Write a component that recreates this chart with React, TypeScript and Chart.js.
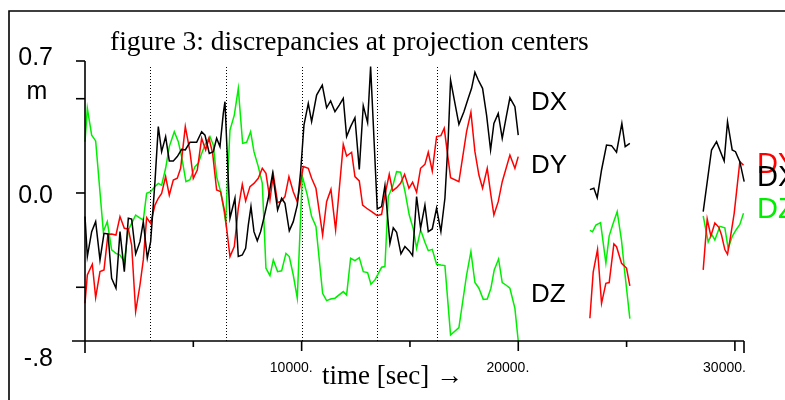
import React, { useEffect, useRef } from "react";
import { Chart, registerables } from "chart.js";

Chart.register(...registerables);

// ---- data (time in seconds, discrepancy in metres); null = gap between strips
const dxTime = [
  0, 108, 308, 492, 692, 877, 1061, 1230, 1430, 1615, 1815, 2000, 2153, 2338, 2538, 2691, 2876, 3030,
  3230, 3384, 3537, 3722, 3891, 4076, 4260, 4460, 4630, 4845, 5154, 5384, 5538, 5738, 5923, 6076, 6230,
  6384, 6461, 6692, 6922, 7076, 7261, 7415, 7538, 7661, 7799, 7953, 8107, 8261, 8461, 8661, 8891, 9076,
  9230, 9430, 9614, 9799, 9953, 10107, 10307, 10461, 10692, 10953, 11153, 11338, 11538, 11738, 11922,
  12076, 12261, 12461, 12661, 12845, 13045, 13184, 13491, 13691, 13845, 14076, 14230, 14384, 14584,
  14768, 14968, 15122, 15307, 15491, 15691, 15845, 16030, 16229, 16429, 16614, 16768, 16875, 17260,
  17491, 17691, 17845, 17999, 18153, 18352, 18537, 18722, 18875, 19075, 19260, 19460, 19614, 19845, 19999,
  21500,
  23306, 23490, 23644, 23844, 24074, 24305, 24536, 24782, 24936, 25151,
  27000,
  28537, 28921, 29152, 29505, 29659, 29875, 30028, 30228, 30428,
];
const dxValue = [
  -0.125, -0.337, -0.205, -0.152, -0.355, -0.214, -0.217, -0.452, -0.505, -0.205, -0.417, -0.134, -0.138,
  -0.323, -0.258, -0.152, -0.346, -0.258, 0.06, 0.352, 0.219, 0.299, 0.17, 0.17, 0.193, 0.231, 0.228,
  0.269, 0.269, 0.325, 0.307, 0.21, 0.219, 0.29, 0.246, 0.422, 0.484, -0.134, -0.028, -0.337, -0.329,
  -0.293, -0.17, -0.072, -0.205, -0.254, -0.205, -0.131, -0.028, 0.104, -0.09, -0.028, -0.055, -0.201,
  -0.152, -0.064, 0.113, 0.36, 0.475, 0.378, 0.519, 0.572, 0.452, 0.488, 0.431, 0.466, 0.502, 0.299,
  0.352, 0.399, 0.125, 0.463, 0.373, 0.67, -0.085, -0.072, 0.039, -0.267, -0.184, -0.208, -0.323,
  -0.284, -0.307, -0.332, -0.019, -0.187, -0.064, -0.205, -0.191, -0.081, -0.205, -0.028, 0.29, 0.599,
  0.364, 0.431, 0.502, 0.555, 0.64, 0.599, 0.555, 0.413, 0.228, 0.369, 0.422, 0.29, 0.413, 0.505, 0.458,
  0.307,
  null,
  0.018, 0.025, -0.025, 0.122, 0.254, 0.251, 0.216, 0.369, 0.246, 0.263,
  null,
  -0.099, 0.228, 0.272, 0.17, 0.378, 0.228, 0.219, 0.166, 0.06,
];

const dyTime = [
  0, 108, 338, 492, 692, 877, 1061, 1230, 1430, 1615, 1815, 2000, 2153, 2338, 2538, 2691, 2845, 3030,
  3230, 3384, 3537, 3722, 3891, 4076, 4260, 4414, 4630, 4845, 4999, 5184, 5384, 5569, 5723, 5892, 6076,
  6261, 6446, 6692, 6892, 7076, 7261, 7415, 7615, 7799, 7999, 8184, 8353, 8538, 8692, 8891, 9076, 9230,
  9414, 9614, 9799, 10077, 10307, 10461, 10661, 10815, 10969, 11153, 11353, 11569, 11922, 12076, 12307,
  12461, 12661, 12815, 13000, 13230, 13491, 13691, 13845, 14045, 14199, 14384, 14568, 14753, 14953,
  15122, 15307, 15491, 15691, 15845, 16030, 16229, 16429, 16583, 16875, 17260, 17614, 17814, 17999,
  18183, 18352, 18568, 18737, 18875, 19075, 19260, 19614, 19845, 19999,
  21500,
  23306, 23459, 23659, 23844, 24044, 24197, 24413, 24536, 24767, 24997, 25151,
  27000,
  28537, 28721, 28890, 29075, 29259, 29382, 29536, 29659, 29798, 29967, 30228, 30397,
];
const dyValue = [
  -0.585, -0.435, -0.378, -0.555, -0.417, -0.408, -0.219, -0.217, -0.223, -0.125, -0.187, -0.191,
  -0.276, -0.629, -0.488, -0.355, -0.131, -0.161, -0.064, -0.028, -0.002, 0.087, -0.011, 0.069, 0.078,
  0.131, 0.352, 0.219, 0.078, 0.122, 0.29, 0.228, 0.29, 0.21, 0.016, 0.007, -0.099, -0.337, -0.284,
  -0.081, 0.046, -0.042, 0.034, 0.051, 0.078, 0.131, 0.104, -0.037, 0.099, -0.051, -0.042, -0.019,
  0.087, 0.007, -0.046, 0.14, 0.131, 0.078, 0.025, -0.099, -0.223, -0.046, 0.019, -0.196, 0.258, 0.196,
  0.216, 0.087, 0.064, -0.064, -0.081, -0.099, -0.12, -0.113, -0.011, 0.099, 0.011, 0.028, 0.051, 0.099,
  0.025, 0.057, 0.004, 0.131, 0.152, 0.216, 0.117, 0.299, 0.304, 0.343, 0.081, 0.06, 0.325, 0.428,
  0.219, 0.095, 0.025, 0.131, -0.011, -0.117, -0.046, 0.06, 0.201, 0.131, 0.193,
  null,
  -0.664, -0.42, -0.3, -0.585, -0.479, -0.475, -0.27, -0.285, -0.373, -0.398, -0.493,
  null,
  -0.408, -0.138, -0.228, -0.159, -0.182, -0.223, -0.3, -0.325, -0.231, -0.108, 0.166, 0.148,
];

const dzTime = [
  0, 108, 308, 492, 846, 1030, 1230, 1430, 1615, 1815, 2000, 2153, 2338, 2507, 2691, 2845, 3030, 3230,
  3384, 3537, 3722, 3891, 4122, 4307, 4460, 4660, 4845, 5077, 5230, 5384, 5569, 5769, 5923, 6076, 6261,
  6384, 6492, 6692, 6892, 7076, 7276, 7461, 7645, 7799, 7999, 8184, 8353, 8538, 8692, 8891, 9076, 9276,
  9430, 9614, 9799, 10030, 10261, 10461, 10661, 10969, 11153, 11338, 11538, 11922, 12076, 12261, 12461,
  12661, 12845, 13045, 13199, 13384, 13691, 13845, 13999, 14199, 14384, 14568, 14768, 14968, 15153,
  15307, 15491, 15691, 15845, 16030, 16229, 16429, 16614, 16875, 17260, 17614, 17814, 17999, 18183,
  18383, 18568, 18737, 18891, 19091, 19260, 19429, 19614, 19845, 19999,
  21500,
  23306, 23429, 23582, 23798, 24044, 24197, 24382, 24567, 24767, 24921, 25151,
  27000,
  28537, 28767, 28921, 29075, 29305, 29536, 29690, 29875, 30028, 30228, 30397,
];
const dzValue = [
  0.272, 0.449, 0.307, 0.276, -0.205, -0.152, -0.302, -0.32, -0.329, -0.364, -0.196, -0.161, -0.117,
  -0.131, -0.143, -0.002, 0.007, 0.034, 0.051, 0.042, 0.131, 0.246, 0.325, 0.272, 0.193, 0.06, 0.07,
  0.14, 0.157, 0.21, 0.263, 0.299, 0.254, 0.087, 0.007, -0.072, -0.152, 0.334, 0.413, 0.555, 0.263,
  0.269, 0.325, 0.219, 0.14, 0.051, -0.399, -0.438, -0.355, -0.417, -0.413, -0.32, -0.337, -0.435,
  -0.558, 0.09, -0.011, -0.125, -0.178, -0.532, -0.571, -0.562, -0.558, -0.523, -0.541, -0.346, -0.359,
  -0.343, -0.417, -0.422, -0.484, -0.461, -0.394, -0.39, -0.019, 0.034, 0.113, 0.11, 0.01, -0.117, -0.19,
  -0.293, -0.195, -0.261, -0.306, -0.299, -0.378, -0.382, -0.385, -0.753, -0.714, -0.435, -0.311,
  -0.475, -0.505, -0.564, -0.562, -0.505, -0.408, -0.35, -0.475, -0.488, -0.505, -0.612, -0.785,
  null,
  -0.198, -0.205, -0.17, -0.157, -0.372, -0.227, -0.161, -0.099, -0.253, -0.426, -0.666,
  null,
  -0.122, -0.26, -0.218, -0.249, -0.177, -0.185, -0.295, -0.231, -0.2, -0.167, -0.108,
];

const stripBoundaries = [3000, 6500, 10000, 13500, 16250];
const xTicks = [0, 5000, 10000, 15000, 20000, 25000, 30000];
const xTickLabels = ["", "", "10000.", "", "20000.", "", "30000."];
const yTicks = [0.7, 0.5, 0, -0.5];
const yTickLabels = ["0.7", "", "0.0", ""];
const yBottomLabel = "-.8";
const yUnit = "m";
const titleText = "figure 3: discrepancies at projection centers";
const xTitle = "time [sec] \u2192";
const X_MIN = 0;
const X_MAX = 30420;
const Y_MIN = -0.785;
const Y_MAX = 0.7;

const BLACK = "#000000";
const RED = "#ff0000";
const GREEN = "#00ee00";

function pts(t: number[], v: (number | null)[]) {
  return t.map((x, i) => ({ x, y: v[i] }));
}

const decor = {
  id: "decor",
  beforeDraw(chart: any) {
    const { ctx, width, height } = chart;
    ctx.save();
    ctx.fillStyle = "#ffffff";
    ctx.fillRect(0, 0, width, height);
    ctx.restore();
  },
  beforeDatasetsDraw(chart: any) {
    const { ctx, chartArea } = chart;
    const xs = chart.scales.x;
    ctx.save();
    ctx.strokeStyle = "#000";
    ctx.lineWidth = 1;
    ctx.setLineDash([1, 2]);
    for (const b of stripBoundaries) {
      const px = Math.round(xs.getPixelForValue(b)) + 0.5;
      ctx.beginPath();
      ctx.moveTo(px, chartArea.top + 6);
      ctx.lineTo(px, chartArea.bottom);
      ctx.stroke();
    }
    ctx.restore();
  },
  afterDraw(chart: any) {
    const { ctx, chartArea } = chart;
    const xs = chart.scales.x;
    const ys = chart.scales.y;
    const x0 = xs.getPixelForValue(X_MIN);
    const xEnd = xs.getPixelForValue(X_MAX);
    const yb = chartArea.bottom;
    ctx.save();
    ctx.strokeStyle = "#000";
    ctx.lineWidth = 1.6;
    // frame
    ctx.beginPath();
    ctx.moveTo(9, 400);
    ctx.lineTo(9, 11);
    ctx.lineTo(785, 11);
    ctx.stroke();
    // y axis
    ctx.beginPath();
    ctx.moveTo(x0, ys.getPixelForValue(Y_MAX));
    ctx.lineTo(x0, yb + 12);
    ctx.stroke();
    // x axis
    ctx.beginPath();
    ctx.moveTo(x0 - 13, yb);
    ctx.lineTo(xEnd, yb);
    ctx.moveTo(xEnd, yb);
    ctx.lineTo(xEnd, yb + 12);
    ctx.stroke();
    // x ticks
    xTicks.forEach((t, i) => {
      if (t === 0) return;
      const px = xs.getPixelForValue(t);
      const len = t % 10000 === 0 ? 10 : 6;
      ctx.beginPath();
      ctx.moveTo(px, yb);
      ctx.lineTo(px, yb + len);
      ctx.stroke();
      const lab = xTickLabels[i];
      if (lab) {
        ctx.fillStyle = "#000";
        ctx.font = "14px 'Liberation Sans', Arial, sans-serif";
        ctx.textAlign = "right";
        ctx.textBaseline = "middle";
        ctx.fillText(lab, px + 11, yb + 27);
      }
    });
    // y ticks
    ctx.fillStyle = "#000";
    yTicks.forEach((v, i) => {
      const py = ys.getPixelForValue(v);
      ctx.beginPath();
      ctx.moveTo(x0 - 9, py);
      ctx.lineTo(x0, py);
      ctx.stroke();
      const lab = yTickLabels[i];
      if (lab) {
        ctx.font = "25px 'Liberation Sans', Arial, sans-serif";
        ctx.textAlign = "right";
        ctx.textBaseline = "middle";
        ctx.fillText(lab, 53, py + (v === 0 ? 3 : -3));
      }
    });
    ctx.font = "25px 'Liberation Sans', Arial, sans-serif";
    ctx.textAlign = "right";
    ctx.textBaseline = "middle";
    ctx.fillText(yBottomLabel, 53, yb + 18);
    ctx.textAlign = "center";
    ctx.textBaseline = "alphabetic";
    ctx.fillText(yUnit, 37, 99);
    // title
    ctx.font = "27.5px 'Liberation Serif', 'Times New Roman', serif";
    ctx.textAlign = "left";
    ctx.fillText(titleText, 110, 50);
    // x title
    ctx.font = "27px 'Liberation Serif', 'Times New Roman', serif";
    ctx.fillText(xTitle, 322, 384);
    // series labels
    ctx.font = "26px 'Liberation Sans', Arial, sans-serif";
    ctx.fillStyle = BLACK;
    ctx.fillText("DX", 531, 110);
    ctx.fillText("DY", 531, 173);
    ctx.fillText("DZ", 531, 302);
    ctx.font = "29px 'Liberation Sans', Arial, sans-serif";
    ctx.fillStyle = RED;
    ctx.fillText("DY", 757, 173);
    ctx.fillStyle = BLACK;
    ctx.fillText("DX", 757, 186);
    ctx.fillStyle = GREEN;
    ctx.fillText("DZ", 757, 218);
    ctx.restore();
  },
};

export default function App() {
  const ref = useRef<HTMLCanvasElement | null>(null);
  useEffect(() => {
    if (!ref.current) return;
    const chart = new Chart(ref.current, {
      type: "line",
      data: {
        datasets: [
          { label: "DX", data: pts(dxTime, dxValue), borderColor: BLACK },
          { label: "DY", data: pts(dyTime, dyValue), borderColor: RED },
          { label: "DZ", data: pts(dzTime, dzValue), borderColor: GREEN },
        ].map((d) => ({
          ...d,
          borderWidth: 1.5,
          pointRadius: 0,
          tension: 0,
          fill: false,
          spanGaps: false,
          clip: false as any,
        })),
      },
      options: {
        animation: false,
        responsive: false,
        events: [],
        layout: { padding: { left: 85, right: 41, top: 61, bottom: 59 } },
        plugins: { legend: { display: false }, tooltip: { enabled: false }, title: { display: false } },
        scales: {
          x: { type: "linear", min: X_MIN, max: X_MAX, display: false },
          y: { type: "linear", min: Y_MIN, max: Y_MAX, display: false },
        },
      },
      plugins: [decor],
    });
    return () => chart.destroy();
  }, []);
  return (
    <div style={{ position: "fixed", left: 0, top: 0, width: 785, height: 400 }}>
      <canvas ref={ref} width={785} height={400} style={{ display: "block" }} />
    </div>
  );
}
